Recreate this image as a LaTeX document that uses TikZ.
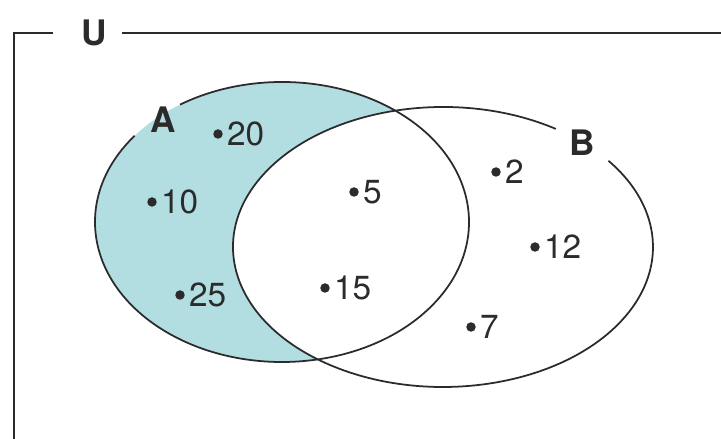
\documentclass[tikz,border=0pt]{standalone}
\usepackage{fontspec}
\setmainfont{TeX Gyre Heros}
\usepackage{tikz}
\usetikzlibrary{calc}
\definecolor{acqua}{HTML}{B2DEE1}
\definecolor{dark}{HTML}{2B2B2B}

\begin{document}
\begin{tikzpicture}[x=0.02cm, y=0.02cm,
    num/.style={anchor=west, inner sep=0pt, xshift=5pt, text=dark,
                font=\fontsize{19}{22}\selectfont},
    insieme/.style={inner sep=0pt, text=dark,
                font=\fontsize{20}{24}\selectfont\bfseries}]
  \useasboundingbox (0,0) rectangle (721,439);
  \coordinate (CA) at (282,217);
  \coordinate (CB) at (443,192);

  % Universo U (cornice aperta)
  \node[insieme] (lblU) at (94,406) {U};
  \draw[dark, line width=1.2pt] (53,406) -| (14,0);
  \draw[dark, line width=1.2pt] (122,406) -- (721,406);

  % A meno B ombreggiato
  \fill[acqua] (CA) ellipse[x radius=187, y radius=140];
  \fill[white] (CB) ellipse[x radius=210, y radius=140];

  % Contorni, con spazio per le etichette
  \draw[dark, line width=1pt]
        (CA) ++(142:187 and 140) arc[start angle=142, end angle=483, x radius=187, y radius=140];
  \draw[dark, line width=1pt]
        (CB) ++(57.5:210 and 140) arc[start angle=57.5, end angle=398, x radius=210, y radius=140];

  % Etichette insiemi
  \node[insieme] (lblA) at (163,319) {A};
  \node[insieme] (lblB) at (582,296) {B};

  % Elementi
  \fill[dark] (218,305) circle(2.7pt) node[num] (n20) {20};
  \fill[dark] (152,237) circle(2.7pt) node[num] (n10) {10};
  \fill[dark] (180,144) circle(2.7pt) node[num] (n25) {25};
  \fill[dark] (354,247) circle(2.7pt) node[num] (n5)  {5};
  \fill[dark] (325,151) circle(2.7pt) node[num] (n15) {15};
  \fill[dark] (496,267) circle(2.7pt) node[num] (n2)  {2};
  \fill[dark] (535,192) circle(2.7pt) node[num] (n12) {12};
  \fill[dark] (471,112) circle(2.7pt) node[num] (n7)  {7};
\end{tikzpicture}
\end{document}
